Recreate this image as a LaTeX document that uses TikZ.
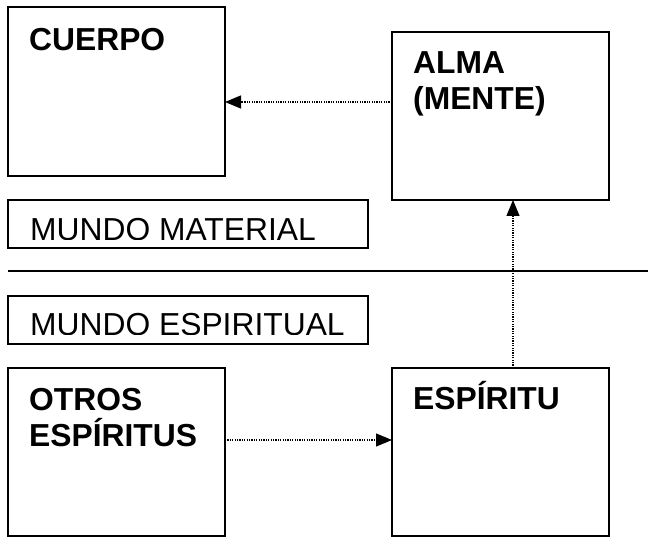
\documentclass[tikz,border=0pt]{standalone}
\usepackage{fontspec}
\setmainfont{Liberation Sans}
\usetikzlibrary{arrows.meta}
\tikzset{
  bigbox/.style={draw, line width=2pt, minimum width=217pt, minimum height=168pt, anchor=north west, inner sep=0pt, outer sep=0pt},
  labbox/.style={draw, line width=2pt, minimum width=360pt, minimum height=48pt, anchor=north west, inner sep=0pt, outer sep=0pt},
  bt/.style={font=\fontsize{31.8}{36}\selectfont\bfseries, inner sep=0pt, anchor=base west},
  rt/.style={font=\fontsize{31.8}{36}\selectfont, inner sep=0pt, anchor=base west},
  arr/.style={line width=1.2pt, dash pattern=on 1.2pt off 1.2pt, -{Triangle[length=16pt,width=13pt]}}
}
\begin{document}
\begin{tikzpicture}[x=1pt,y=-1pt]
\useasboundingbox (0,0) rectangle (648,537);
\fill[white] (0,0) rectangle (648,537);
% boxes
\node[bigbox, minimum height=169pt] (cuerpo) at (8,7) {};
\node[bigbox] (alma) at (392,32) {};
\node[bigbox] (otros) at (8,368) {};
\node[bigbox] (espiritu) at (392,368) {};
\node[labbox] (material) at (8,200) {};
\node[labbox] (espiritual) at (8,296) {};
% texts
\node[bt] (cuerpoT) at (29,50.5) {CUERPO};
\node[bt] (almaT1) at (413,73.5) {ALMA};
\node[bt] (almaT2) at (413,109.5) {(MENTE)};
\node[bt] (otrosT1) at (29,410) {OTROS};
\node[bt] (otrosT2) at (29,446) {ESPÍRITUS};
\node[bt] (espirituT) at (413,409) {ESPÍRITU};
\begin{scope}
\clip (8,200) rectangle (368,239.3);
\node[rt] (materialT) at (30,240.3) {MUNDO MATERIAL};
\end{scope}
\begin{scope}
\clip (8,296) rectangle (368,334.3);
\node[rt] (espiritualT) at (30,335.3) {MUNDO ESPIRITUAL};
\end{scope}
% divider
\coordinate (hl1) at (8,271.5);
\coordinate (hl2) at (648,271.5);
\draw[line width=2pt] (hl1) -- (hl2);
% connectors
\draw[arr] (alma.west |- 0,102) -- (cuerpo.east |- 0,102);
\draw[arr] (espiritu.north -| 513,0) -- (alma.south -| 513,0);
\draw[arr] (otros.east |- 0,440) -- (espiritu.west |- 0,440);
\end{tikzpicture}
\end{document}
